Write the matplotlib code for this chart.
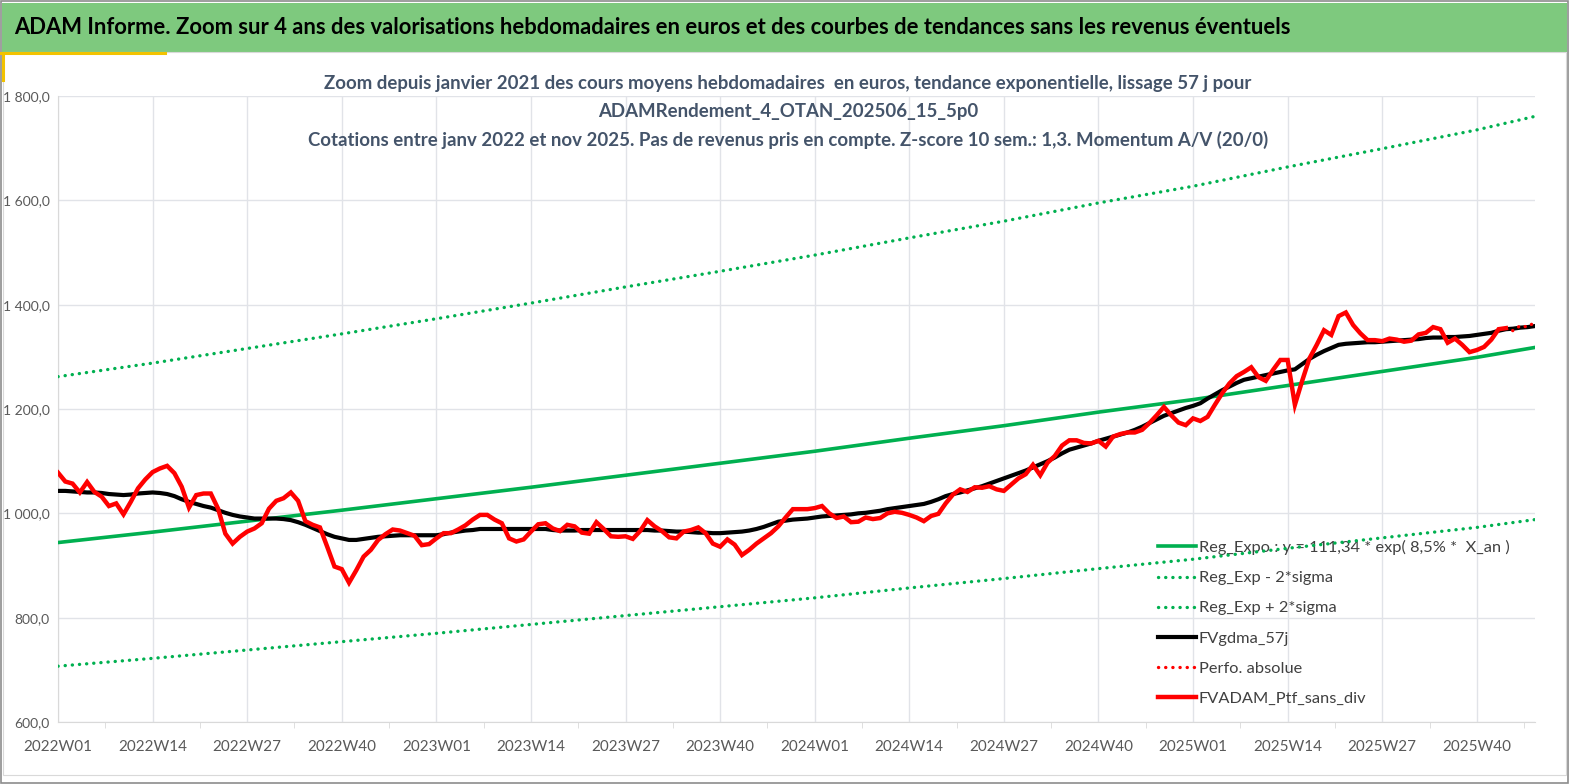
import matplotlib
matplotlib.use("Agg")
import matplotlib.pyplot as plt
from matplotlib.lines import Line2D
from matplotlib.patches import Rectangle
from matplotlib.ticker import FixedLocator, FuncFormatter, NullFormatter

plt.rcParams["font.family"] = ["Lato", "DejaVu Sans"]

# ---- data ----
years = [2022, 2023, 2024, 2025]
n_weeks = 204  # 2022W01 .. 2025W48
week_labels = [f"{y}W{w:02d}" for y in years for w in range(1, 53)][:n_weeks]

# FVADAM_Ptf_sans_div, weekly, 2022W01 .. 2025W44
ptf = [
    1078, 1061, 1057, 1040, 1060, 1041, 1032, 1014, 1019, 998,
    1022, 1048, 1065, 1079, 1086, 1091, 1077, 1051, 1011, 1035,
    1038, 1038, 1009, 961, 942, 955, 965, 971, 981, 1009,
    1024, 1029, 1040, 1024, 985, 978, 973, 936, 898, 893,
    867, 891, 917, 930, 949, 960, 969, 967, 962, 957,
    939, 941, 952, 962, 962, 969, 977, 988, 997, 997,
    988, 981, 952, 946, 950, 965, 979, 981, 971, 966,
    978, 975, 963, 961, 983, 970, 956, 955, 956, 951,
    966, 987, 975, 966, 954, 952, 965, 968, 973, 962,
    942, 936, 950, 940, 920, 930, 942, 952, 962, 975,
    992, 1008, 1008, 1008, 1010, 1014, 1000, 991, 994, 983,
    984, 992, 989, 991, 1000, 1003, 1001, 997, 992, 985,
    995, 999, 1019, 1036, 1046, 1041, 1050, 1049, 1052, 1046,
    1043, 1055, 1067, 1075, 1093, 1073, 1097, 1110, 1130, 1140,
    1140, 1135, 1134, 1139, 1128, 1147, 1152, 1155, 1155, 1160,
    1173, 1188, 1204, 1188, 1174, 1169, 1182, 1177, 1185, 1208,
    1230, 1249, 1263, 1271, 1280, 1261, 1254, 1275, 1294, 1294,
    1208, 1254, 1297, 1323, 1351, 1342, 1378, 1385, 1361, 1345,
    1332, 1332, 1330, 1335, 1333, 1329, 1331, 1343, 1346, 1357,
    1353, 1327, 1335, 1323, 1309, 1313, 1319, 1333, 1353, 1355,
]

# Perfo. absolue, only the tail is visible beyond the solid line
perf_weeks = [199, 200, 201, 202, 203]
perf = [1355, 1350, 1360, 1357, 1367]

# FVgdma_57j, weekly
gdma = [
    1043, 1043, 1042, 1041, 1040, 1040, 1039, 1037, 1036, 1035,
    1036, 1038, 1039, 1040, 1039, 1037, 1033, 1027, 1022, 1018,
    1014, 1011, 1006, 1001, 997, 994, 992, 990, 990, 990,
    990, 989, 987, 983, 978, 972, 966, 960, 955, 952,
    949, 949, 951, 953, 955, 956, 957, 958, 958, 958,
    958, 958, 958, 960, 963, 965, 967, 968, 970, 970,
    970, 970, 970, 970, 970, 970, 970, 970, 968, 967,
    967, 967, 968, 968, 968, 968, 968, 968, 968, 968,
    968, 968, 967, 967, 966, 965, 965, 964, 963, 963,
    962, 962, 963, 964, 965, 967, 970, 974, 979, 984,
    986, 988, 989, 990, 992, 994, 995, 996, 997, 998,
    1000, 1001, 1003, 1005, 1008, 1010, 1012, 1014, 1016, 1018,
    1022, 1027, 1033, 1037, 1040, 1044, 1048, 1052, 1057, 1062,
    1067, 1072, 1077, 1082, 1088, 1094, 1100, 1107, 1115, 1122,
    1126, 1130, 1134, 1139, 1143, 1147, 1151, 1155, 1160, 1166,
    1173, 1180, 1187, 1192, 1197, 1202, 1206, 1211, 1220, 1228,
    1236, 1243, 1250, 1256, 1259, 1262, 1265, 1268, 1271, 1274,
    1276, 1286, 1296, 1304, 1311, 1317, 1323, 1325, 1326, 1327,
    1328, 1328, 1329, 1330, 1331, 1332, 1333, 1334, 1336, 1337,
    1337, 1338, 1338, 1339, 1340, 1342, 1344, 1346, 1350, 1353,
    1354, 1356, 1357, 1359,
]

# exponential trend and +/- 2 sigma bands, read at the labelled weeks
trend_weeks = [0, 13, 26, 39, 52, 65, 78, 91, 104, 117, 130, 143, 156, 169, 182, 195, 203]
trend = [944, 964, 985, 1006, 1028, 1050, 1073, 1096, 1119, 1144, 1168, 1194, 1218, 1245, 1272, 1299, 1318]
band_lo = [707, 722, 738, 754, 770, 787, 804, 821, 838, 857, 875, 894, 912, 933, 953, 973, 988]
band_hi = [1262, 1288, 1316, 1344, 1373, 1403, 1434, 1464, 1495, 1528, 1560, 1595, 1627, 1664, 1699, 1735, 1761]

title = ("ADAM Informe. Zoom sur 4 ans des valorisations hebdomadaires en euros "
         "et des courbes de tendances sans les revenus éventuels")
subtitle = [
    "Zoom depuis janvier 2021 des cours moyens hebdomadaires  en euros, tendance exponentielle, lissage 57 j pour",
    "ADAMRendement_4_OTAN_202506_15_5p0",
    "Cotations entre janv 2022 et nov 2025. Pas de revenus pris en compte. Z-score 10 sem.: 1,3. Momentum A/V (20/0)",
]
legend_labels = [
    "Reg_Expo : y = 111,34 * exp( 8,5% *  X_an )",
    "Reg_Exp - 2*sigma",
    "Reg_Exp + 2*sigma",
    "FVgdma_57j",
    "Perfo. absolue",
    "FVADAM_Ptf_sans_div",
]

GREEN = "#00B050"
RED = "#FF0000"
GRID = "#E1E3E8"
TXT = "#595959"

W, H = 1569, 784
fig = plt.figure(figsize=(W / 100, H / 100), dpi=100)

# banner + frame decorations
fig.patches.append(Rectangle((2 / W, 1 - 52 / H), 1 - 4 / W, 49 / H, transform=fig.transFigure,
                             facecolor="#7EC97E", edgecolor="none", zorder=0))
fig.patches.append(Rectangle((1 / W, 1 / H), 1 - 2 / W, 1 - 2 / H, transform=fig.transFigure,
                             facecolor="none", edgecolor="#8C8C8C", lw=1.2, zorder=0))
fig.patches.append(Rectangle((3 / W, 9 / H), 1 - 6 / W, 1 - 61 / H, transform=fig.transFigure,
                             facecolor="none", edgecolor="#D9D9D9", lw=0.8, zorder=0))
fig.lines.append(Line2D([0, 165 / W], [1 - 53 / H, 1 - 53 / H], transform=fig.transFigure,
                        color="#F2C200", lw=2.2))
fig.lines.append(Line2D([3 / W, 3 / W], [1 - 53 / H, 1 - 80 / H], transform=fig.transFigure,
                        color="#F2C200", lw=2.2))

fig.text(14 / W, 1 - 28 / H, title, fontsize=15.8, fontweight="bold", color="black",
         ha="left", va="center")
for i, line in enumerate(subtitle):
    fig.text(788 / W, 1 - (83 + 28.5 * i) / H, line, fontsize=13.4, fontweight="bold",
             color="#44546A", ha="center", va="center")

ax = fig.add_axes([58 / W, 62 / H, 1477 / W, 626 / H])
ax.set_xlim(0, n_weeks - 1)
ax.set_ylim(600, 1800)

ax.plot(trend_weeks, trend, color=GREEN, lw=2.6, label=legend_labels[0], zorder=3)
ax.plot(trend_weeks, band_lo, color=GREEN, lw=2.4, ls=(0, (0.05, 2.1)),
        dash_capstyle="round", label=legend_labels[1], zorder=3)
ax.plot(trend_weeks, band_hi, color=GREEN, lw=2.4, ls=(0, (0.05, 2.1)),
        dash_capstyle="round", label=legend_labels[2], zorder=3)
ax.plot(range(len(gdma)), gdma, color="black", lw=3.0, label=legend_labels[3], zorder=4)
ax.plot(perf_weeks, perf, color=RED, lw=2.4, ls=(0, (0.05, 2.1)),
        dash_capstyle="round", label=legend_labels[4], zorder=4)
ax.plot(range(len(ptf)), ptf, color=RED, lw=3.2, label=legend_labels[5], zorder=5,
        solid_joinstyle="miter")

ticks = list(range(0, n_weeks, 13))
ax.xaxis.set_major_locator(FixedLocator(ticks))
ax.set_xticklabels([week_labels[t] for t in ticks])
ax.xaxis.set_minor_locator(FixedLocator([t + 6.5 for t in ticks if t + 6.5 < n_weeks]))
ax.xaxis.set_minor_formatter(NullFormatter())
ax.set_yticks(range(600, 1801, 200))
ax.yaxis.set_major_formatter(FuncFormatter(lambda v, _: f"{v:,.1f}".replace(",", " ").replace(".", ",")))

ax.grid(True, which="major", color=GRID, lw=1.0, zorder=0)
ax.set_axisbelow(True)
for side in ("top", "right"):
    ax.spines[side].set_visible(False)
for side in ("left", "bottom"):
    ax.spines[side].set_color("#D9D9D9")
ax.tick_params(axis="x", which="major", length=0, labelsize=11, colors=TXT, pad=13)
ax.tick_params(axis="y", which="major", length=0, labelsize=10, colors=TXT, pad=6)
ax.tick_params(axis="x", which="minor", length=4, color="#D9D9D9")

leg = ax.legend(loc="upper left", bbox_to_anchor=(1158 / W, 1 - 540 / H), bbox_transform=fig.transFigure,
                frameon=False, fontsize=11.8, handlelength=2.3, handletextpad=0.2, labelspacing=0.96,
                borderaxespad=0, borderpad=0)
for t in leg.get_texts():
    t.set_color("#404040")
leg.set_zorder(1)

fig.savefig("out.png", dpi=100)
